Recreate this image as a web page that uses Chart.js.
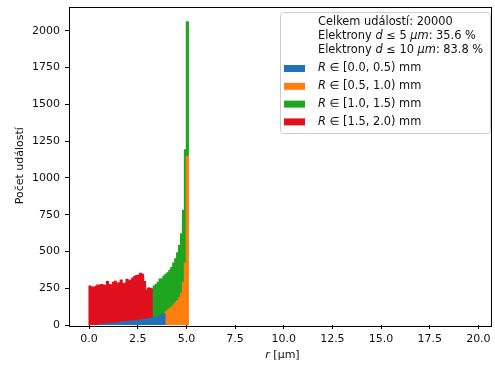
<!DOCTYPE html>
<html>
<head>
<meta charset="utf-8">
<script src="https://cdn.jsdelivr.net/npm/chart.js@4.4.1/dist/chart.umd.min.js"></script>
<style>
  html, body { margin: 0; padding: 0; background: #fff; }
</style>
</head>
<body>
<canvas id="myChart" width="495" height="368"></canvas>
<script>
// Histogram bins (left edges, µm) and counts per R range
const binStart = [0.0, 0.1, 0.2, 0.3, 0.4, 0.5, 0.6, 0.7, 0.8, 0.9,
                  1.0, 1.1, 1.2, 1.3, 1.4, 1.5, 1.6, 1.7, 1.8, 1.9,
                  2.0, 2.1, 2.2, 2.3, 2.4, 2.5, 2.6, 2.7, 2.8, 2.9,
                  3.0, 3.1, 3.2, 3.3, 3.4, 3.5, 3.6, 3.7, 3.8, 3.9,
                  4.0, 4.1, 4.2, 4.3, 4.4, 4.5, 4.6, 4.7, 4.8, 4.9,
                  5.0];
const binWidth = 0.1;

const blueCounts = [0, 0, 0, 0, 0, 2, 3, 5, 6, 8,
                    9, 11, 12, 13, 15, 16, 17, 19, 21, 22,
                    24, 25, 27, 28, 30, 31, 33, 35, 37, 39,
                    42, 44, 47, 50, 53, 57, 62, 67, 76, 0,
                    0, 0, 0, 0, 0, 0, 0, 0, 0, 0,
                    0];
const orangeCounts = [0, 0, 0, 0, 0, 0, 0, 0, 0, 0,
                      0, 0, 0, 0, 0, 0, 0, 0, 0, 0,
                      0, 0, 0, 0, 0, 0, 0, 0, 0, 0,
                      0, 0, 0, 0, 0, 0, 0, 0, 0, 90,
                      100, 110, 122, 135, 150, 165, 185, 215, 290, 420,
                      1145];
const greenCounts = [0, 0, 0, 0, 0, 0, 0, 0, 0, 0,
                     0, 0, 0, 0, 0, 0, 0, 0, 0, 0,
                     0, 0, 0, 0, 0, 0, 0, 0, 0, 0,
                     0, 0, 0, 215, 222, 233, 250, 246, 256, 255,
                     255, 262, 268, 285, 300, 325, 355, 405, 490, 770,
                     915];
const redCounts = [265, 258, 256, 262, 272, 268, 271, 267, 262, 287,
                   266, 261, 278, 283, 268, 271, 289, 261, 262, 288,
                   276, 281, 291, 301, 305, 309, 318, 310, 258, 199,
                   208, 205, 198, 0, 0, 0, 0, 0, 0, 0,
                   0, 0, 0, 0, 0, 0, 0, 0, 0, 0,
                   0];

const rangeLabels = ['[0.0, 0.5)', '[0.5, 1.0)', '[1.0, 1.5)', '[1.5, 2.0)'];
const seriesColors = ['#1f74b6', '#ff7f0e', '#1fa51f', '#e0101f'];
const totalEvents = 20000;
const limits = [5, 10];
const fractions = [35.6, 83.8];

const FONT = 'DejaVu Sans';

function toPoints(counts) {
    return binStart
        .map((r, i) => ({ x: r + binWidth / 2, y: counts[i] }))
        .filter(p => p.y > 0);
}

// draw text made of upright / italic pieces
function drawRuns(ctx, x, y, runs, size) {
    runs.forEach(([text, italic]) => {
        ctx.font = (italic ? 'italic ' : '') + size + 'px "' + FONT + '"';
        ctx.fillText(text, x, y);
        x += ctx.measureText(text).width;
    });
    return x;
}

function runsWidth(ctx, runs, size) {
    let w = 0;
    runs.forEach(([text, italic]) => {
        ctx.font = (italic ? 'italic ' : '') + size + 'px "' + FONT + '"';
        w += ctx.measureText(text).width;
    });
    return w;
}

const framePlugin = {
    id: 'frame',
    afterDatasetsDraw(chart) {
        const { ctx, chartArea: a } = chart;
        ctx.save();
        ctx.strokeStyle = '#000';
        ctx.lineWidth = 1;
        ctx.strokeRect(Math.round(a.left) + 0.5, Math.round(a.top) + 0.5,
                       Math.round(a.right - a.left) - 1, Math.round(a.bottom - a.top));
        ctx.restore();
    },
    afterDraw(chart) {
        const { ctx, chartArea: a } = chart;
        ctx.save();
        ctx.fillStyle = '#111';
        ctx.textBaseline = 'middle';

        // x axis title
        const xt = [['r', true], [' [\u00b5m]', false]];
        const w = runsWidth(ctx, xt, 11);
        drawRuns(ctx, (a.left + a.right) / 2 + 2 - w / 2, 355, xt, 11);

        // legend box
        ctx.beginPath();
        ctx.roundRect(280.5, 12.5, 210, 121, 3);
        ctx.fillStyle = 'rgba(255,255,255,0.8)';
        ctx.fill();
        ctx.strokeStyle = '#cccccc';
        ctx.lineWidth = 1;
        ctx.stroke();

        ctx.fillStyle = '#111';
        const tx = 318;
        const fs = 11.4;
        drawRuns(ctx, tx, 21.7, [['Celkem událostí: ' + totalEvents, false]], fs);
        limits.forEach((d, i) => {
            drawRuns(ctx, tx, 36.5 + i * 13.8, [
                ['Elektrony ', false], ['d', true], [' \u2264 ' + d + ' ', false],
                ['\u00b5m', true], [': ' + fractions[i].toFixed(1) + ' %', false]
            ], fs);
        });
        rangeLabels.forEach((lab, i) => {
            const cy = 68.5 + i * 17.8;
            ctx.fillStyle = seriesColors[i];
            ctx.fillRect(284, cy - 3.5, 21, 7);
            ctx.fillStyle = '#111';
            drawRuns(ctx, tx, cy, [['R', true], [' \u2208 ' + lab + ' mm', false]], fs);
        });
        ctx.restore();
    }
};

Chart.defaults.font.family = FONT;
Chart.defaults.font.size = 11;
Chart.defaults.color = '#111';

const ctx = document.getElementById('myChart').getContext('2d');
const myChart = new Chart(ctx, {
    type: 'bar',
    data: {
        datasets: [blueCounts, orangeCounts, greenCounts, redCounts].map((counts, i) => ({
            label: 'R \u2208 ' + rangeLabels[i] + ' mm',
            data: toPoints(counts),
            backgroundColor: seriesColors[i],
            borderWidth: 0,
            inflateAmount: 0.6,
            barPercentage: 1,
            categoryPercentage: 1
        }))
    },
    options: {
        responsive: false,
        animation: false,
        devicePixelRatio: 1,
        layout: { padding: { top: 6.5, right: 3, left: 0, bottom: 0 } },
        plugins: {
            legend: { display: false },
            tooltip: { enabled: false }
        },
        scales: {
            x: {
                type: 'linear',
                stacked: true,
                offset: false,
                min: -1.03,
                max: 20.7,
                border: { display: false },
                grid: { drawOnChartArea: false, drawTicks: true, tickLength: 4, tickColor: '#000', offset: false },
                ticks: {
                    stepSize: 2.5,
                    includeBounds: false,
                    padding: 4,
                    maxRotation: 0,
                    callback: v => v.toFixed(1)
                },
                afterFit: scale => {
                    scale.height = 43;
                    scale.paddingLeft = 0;
                    scale.paddingRight = 0;
                }
            },
            y: {
                stacked: true,
                min: 0,
                max: 2165,
                border: { display: false },
                grid: { drawOnChartArea: false, drawTicks: true, tickLength: 4, tickColor: '#000' },
                ticks: {
                    stepSize: 250,
                    includeBounds: false,
                    padding: 5,
                    callback: v => String(v)
                },
                title: {
                    display: true,
                    text: 'Počet událostí',
                    padding: { top: 13.5, bottom: 0 }
                },
                afterFit: scale => {
                    scale.width = 69;
                    scale.paddingTop = 0;
                    scale.paddingBottom = 0;
                }
            }
        }
    },
    plugins: [framePlugin]
});
</script>
</body>
</html>
